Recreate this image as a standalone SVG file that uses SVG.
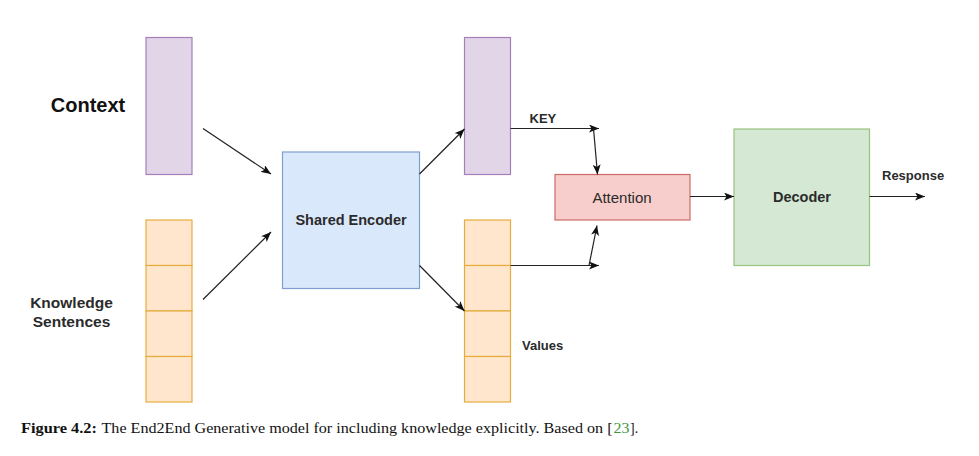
<svg xmlns="http://www.w3.org/2000/svg" width="979" height="456" viewBox="0 0 979 456">
  <style>
    .lbl { font-family: "Liberation Sans", Arial, sans-serif; fill: #2b2b2b; }
    .b { font-weight: bold; }
    .purple { fill: #e1d5e7; stroke: #a67fba; stroke-width: 1.2; }
    .orange { fill: #ffe6cc; stroke: #e6ad3e; stroke-width: 1.2; }
    .blue { fill: #dae8fc; stroke: #7f9fd0; stroke-width: 1.2; }
    .red { fill: #f8cecc; stroke: #cc6b67; stroke-width: 1.2; }
    .green { fill: #d5e8d4; stroke: #97c47e; stroke-width: 1.2; }
    .conn { stroke: #222; stroke-width: 1.2; fill: none; marker-end: url(#arr); }
    .cap { font-family: "Liberation Serif", "Times New Roman", serif; font-size: 14px; fill: #111; }
  </style>
  <defs>
    <marker id="arr" markerUnits="userSpaceOnUse" markerWidth="10" markerHeight="8" refX="10" refY="4" orient="auto">
      <path d="M0,0 L10,4 L0,8 L2.5,4 z" fill="#111"/>
    </marker>
  </defs>
  <rect width="979" height="456" fill="#ffffff"/>

  <g id="context">
    <rect class="purple" x="146" y="37.5" width="46" height="137"/>
    <text class="lbl b" x="88" y="112" font-size="20" text-anchor="middle" style="fill:#111">Context</text>
  </g>

  <g id="knowledge">
    <rect class="orange" x="146" y="220" width="46" height="45.5"/>
    <rect class="orange" x="146" y="265.5" width="46" height="45.5"/>
    <rect class="orange" x="146" y="311" width="46" height="45.5"/>
    <rect class="orange" x="146" y="356.5" width="46" height="45.5"/>
    <text class="lbl b" x="71.5" y="308" font-size="15.5" text-anchor="middle">Knowledge</text>
    <text class="lbl b" x="71.5" y="326.5" font-size="15.5" text-anchor="middle">Sentences</text>
  </g>

  <g id="encoder">
    <rect class="blue" x="282.5" y="152" width="137" height="136.5"/>
    <text class="lbl b" x="351" y="224.5" font-size="14.5" text-anchor="middle">Shared Encoder</text>
  </g>

  <g id="key">
    <rect class="purple" x="464.5" y="37.5" width="46" height="137"/>
  </g>

  <g id="values">
    <rect class="orange" x="464.5" y="220" width="46" height="45.5"/>
    <rect class="orange" x="464.5" y="265.5" width="46" height="45.5"/>
    <rect class="orange" x="464.5" y="311" width="46" height="45.5"/>
    <rect class="orange" x="464.5" y="356.5" width="46" height="45.5"/>
    <text class="lbl b" x="522" y="350" font-size="13">Values</text>
  </g>

  <g id="attention">
    <rect class="red" x="555" y="174.5" width="135" height="45.5"/>
    <text class="lbl" x="622" y="203" font-size="15" text-anchor="middle">Attention</text>
  </g>

  <g id="decoder">
    <rect class="green" x="734" y="129" width="135.5" height="136.5"/>
    <text class="lbl b" x="802" y="202" font-size="14.5" text-anchor="middle">Decoder</text>
  </g>

  <g id="connectors">
    <line class="conn" x1="203" y1="128.5" x2="271" y2="174"/>
    <line class="conn" x1="203" y1="299.5" x2="271" y2="232"/>
    <line class="conn" x1="419.5" y1="174" x2="464.5" y2="129"/>
    <line class="conn" x1="419.5" y1="265.5" x2="464.5" y2="311"/>
    <line class="conn" x1="510.5" y1="128.5" x2="599" y2="128.5"/>
    <line class="conn" x1="593.5" y1="128.5" x2="597.5" y2="174.5"/>
    <line class="conn" x1="510.5" y1="265.5" x2="599" y2="265.5"/>
    <line class="conn" x1="589" y1="265.5" x2="597" y2="225.5"/>
    <line class="conn" x1="690" y1="196.5" x2="734" y2="196.5"/>
    <line class="conn" x1="869.5" y1="196.5" x2="925" y2="196.5"/>
    <text class="lbl b" x="529.5" y="122.5" font-size="13">KEY</text>
    <text class="lbl b" x="882" y="179.5" font-size="13">Response</text>
  </g>

  <g id="caption">
    <text class="cap" x="21" y="432.5" font-weight="bold" textLength="76" lengthAdjust="spacingAndGlyphs">Figure 4.2:</text>
    <text class="cap" x="101.5" y="432.5" textLength="511" lengthAdjust="spacingAndGlyphs">The End2End Generative model for including knowledge explicitly. Based on [</text>
    <text class="cap" x="613.5" y="432.5" style="fill:#3d9a3d" textLength="16" lengthAdjust="spacingAndGlyphs">23</text>
    <text class="cap" x="630" y="432.5">].</text>
  </g>
</svg>
